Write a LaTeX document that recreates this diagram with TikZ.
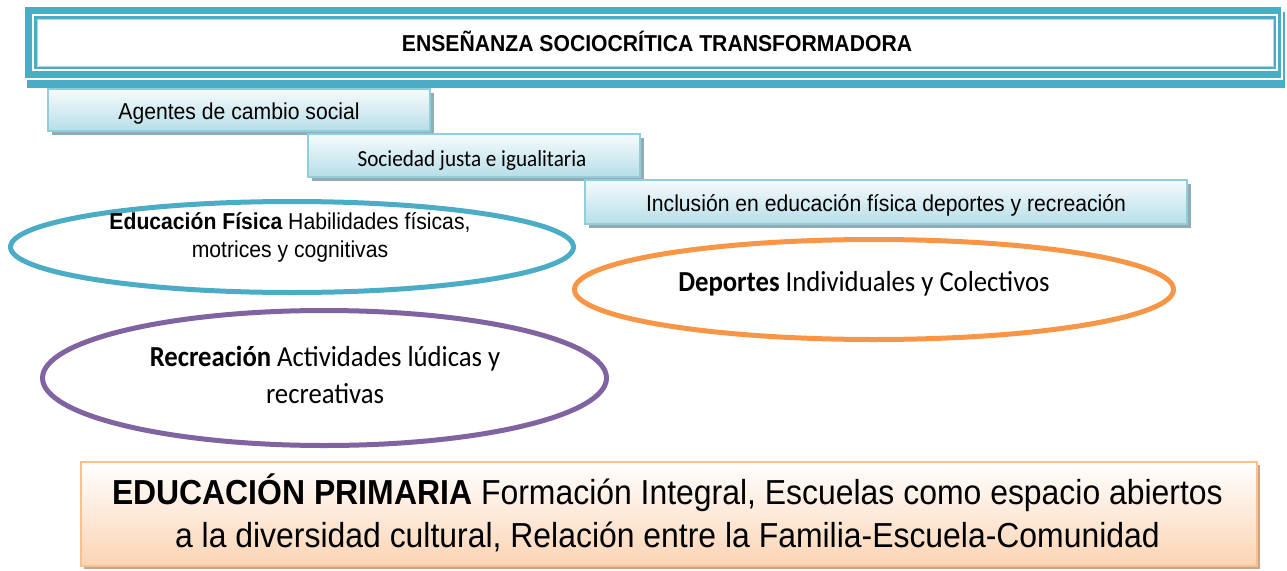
\documentclass[tikz,border=0pt]{standalone}
\usepackage{fontspec}
\usetikzlibrary{shapes.geometric,shadows}
\newfontfamily\arialx[FakeStretch=0.92, BoldFont={Liberation Sans Bold}]{Liberation Sans}
\newfontfamily\calx[FakeStretch=0.92, BoldFont={Carlito Bold}]{Carlito}
\definecolor{teal}{HTML}{4BACC6}
\definecolor{orng}{HTML}{F79646}
\definecolor{purp}{HTML}{8064A2}
\definecolor{boxline}{HTML}{92CDDC}
\definecolor{boxbot}{HTML}{B7DEE8}
\definecolor{boxtop}{HTML}{F6FBFC}
\definecolor{shblue}{HTML}{93ABB4}
\definecolor{pline}{HTML}{FAC08F}
\definecolor{pbot}{HTML}{FBD4B4}
\definecolor{shbrown}{HTML}{C9A68B}
\tikzset{
  bluebox/.style={rectangle, draw=boxline, line width=1.5pt, top color=boxtop, bottom color=boxbot, inner sep=0pt,
     general shadow={shadow xshift=4pt, shadow yshift=-4pt, fill=shblue}},
  peachbox/.style={rectangle, draw=pline, line width=1.5pt, top color=white, bottom color=pbot, inner sep=0pt,
     general shadow={shadow xshift=3pt, shadow yshift=-3pt, fill=shbrown}},
  oval/.style={ellipse, line width=5pt, inner sep=0pt},
  txt/.style={inner sep=0pt, align=center},
  ar/.style={font={\arialx\fontsize{23}{28}\selectfont}},
}
\begin{document}
\begin{tikzpicture}[x=1pt,y=-1pt]
\useasboundingbox (0,0) rectangle (1287,570);
% title banner
\fill[teal] (27,12) rectangle (1285,88);
\draw[white, line width=1.5pt, fill=teal] (24,6) rectangle (1282,79);
\fill[white] (32,14) rectangle (1278,71);
\fill[teal] (34,16) rectangle (1276,69);
\draw[teal!45, line width=0.8pt, fill=white] (37,19) rectangle (1273,66);
\node[txt, font={\arialx\bfseries\fontsize{23}{28}\selectfont}] (title) at (657,41) {ENSEÑANZA SOCIOCRÍTICA TRANSFORMADORA};
% small boxes
\node[bluebox, minimum width=382pt, minimum height=42pt] (b1) at (239,110) {};
\node[txt, ar] (t1) at (239,114) {Agentes de cambio social};
\node[bluebox, minimum width=332pt, minimum height=43pt] (b2) at (474,155.5) {};
\node[txt, font={\calx\fontsize{23}{28}\selectfont}] (t2) at (472,160) {Sociedad justa e igualitaria};
\node[bluebox, minimum width=602pt, minimum height=44pt] (b3) at (886,202) {};
\node[txt, ar] (t3) at (886,205) {Inclusión en educación física deportes y recreación};
% ellipses
\node[oval, draw=teal, minimum width=563pt, minimum height=91pt] (e1) at (292,247) {};
\node[txt, ar] (te1) at (290,237) {{\bfseries Educación Física} Habilidades físicas,\\motrices y cognitivas};
\node[oval, draw=orng, minimum width=599pt, minimum height=100pt] (e2) at (874,289.5) {};
\node[txt, font={\calx\fontsize{29}{37}\selectfont}] (te2) at (864,284) {{\bfseries Deportes} Individuales y Colectivos};
\node[oval, draw=purp, minimum width=564pt, minimum height=135pt] (e3) at (324.5,378) {};
\node[txt, font={\calx\fontsize{29}{37}\selectfont}] (te3) at (325,375) {{\bfseries Recreación} Actividades lúdicas y\\recreativas};
% bottom box
\node[peachbox, minimum width=1176pt, minimum height=104pt] (bb) at (669,514) {};
\node[txt, font={\arialx\fontsize{34.7}{43}\selectfont}] (tb) at (667.5,513) {{\bfseries EDUCACIÓN PRIMARIA} Formación Integral, Escuelas como espacio abiertos\\a la diversidad cultural, Relación entre la Familia-Escuela-Comunidad};
\end{tikzpicture}
\end{document}
